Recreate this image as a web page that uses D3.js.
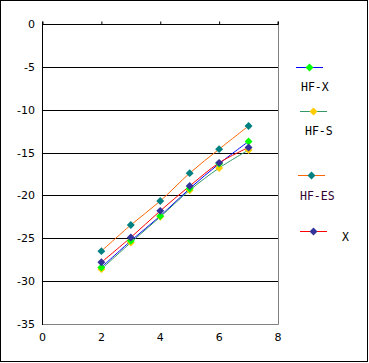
<!DOCTYPE html>
<html lang="en">
<head>
    <meta charset="UTF-8">
    <title>HF chart</title>
    <style>
        body { margin: 0; background: #fff; }
        .tick-label { font-family: "DejaVu Sans", sans-serif; font-size: 11px; fill: #000; }
        .legend-label { font-family: "DejaVu Sans Mono", monospace; font-size: 11.5px; }
    </style>
</head>
<body>
    <svg width="369" height="363"></svg>

    <script src="https://d3js.org/d3.v7.min.js"></script>
    <script>
        // values
        const xValues = [2, 3, 4, 5, 6, 7];
        const hfX = [-28.4, -25.3, -22.4, -19.2, -16.3, -13.7];
        const hfS = [-28.6, -25.5, -22.5, -19.4, -16.8, -14.7];
        const hfES = [-26.5, -23.45, -20.65, -17.4, -14.6, -11.9];
        const xSeries = [-27.8, -24.9, -21.8, -18.9, -16.2, -14.4];

        const yTicks = [0, -5, -10, -15, -20, -25, -30, -35];
        const xTicks = [0, 2, 4, 6, 8];

        const series = [
            { name: "HF-X", values: hfX, line: "#0000ff", marker: "#00ff00", text: "#000", z: 1 },
            { name: "HF-S", values: hfS, line: "#339966", marker: "#ffcc00", text: "#000", z: 0 },
            { name: "HF-ES", values: hfES, line: "#ff6600", marker: "#008080", text: "#330033", z: 2 },
            { name: "X", values: xSeries, line: "#ff0000", marker: "#333399", text: "#000", z: 3 }
        ];

        const svg = d3.select("svg");

        // outer frame
        svg.append("rect")
            .attr("x", 0.5).attr("y", 0.5)
            .attr("width", 367).attr("height", 361)
            .attr("fill", "none").attr("stroke", "#000");

        const x = d3.scaleLinear().domain([0, 8]).range([42.5, 278]);
        const y = d3.scaleLinear().domain([0, -35]).range([24, 324]);

        // gridlines
        svg.append("g")
            .selectAll("line")
            .data(yTicks.filter(d => d < 0 && d > -35))
            .enter().append("line")
            .attr("x1", x(0)).attr("x2", x(8))
            .attr("y1", d => Math.round(y(d)) + 0.5)
            .attr("y2", d => Math.round(y(d)) + 0.5)
            .attr("stroke", "#000");

        // gray bottom and right borders
        svg.append("path")
            .attr("d", `M${x(0)},${y(-35) + 0.5}H${x(8) + 0.5}V${y(0)}`)
            .attr("fill", "none")
            .attr("stroke", "#808080");

        // left axis
        svg.append("line")
            .attr("x1", x(0)).attr("x2", x(0))
            .attr("y1", y(0)).attr("y2", y(-35) + 1)
            .attr("stroke", "#000");

        svg.append("g")
            .selectAll("text")
            .data(yTicks)
            .enter().append("text")
            .attr("class", "tick-label")
            .attr("x", 35)
            .attr("y", d => y(d) + 4)
            .attr("text-anchor", "end")
            .text(d => d === 0 ? "0" : "-" + Math.abs(d));

        // x axis sits on y = 0, ticks point up
        const xAxis = svg.append("g")
            .attr("transform", `translate(0,${Math.round(y(0)) + 0.5})`)
            .call(d3.axisTop(x).tickValues(xTicks).tickSize(3).tickFormat(""));
        xAxis.select(".domain").attr("stroke", "#000").attr("d", `M${x(0)},-3V0H${x(8)}V-3`);
        xAxis.selectAll(".tick line").attr("stroke", "#000");

        svg.append("g")
            .selectAll("text")
            .data(xTicks)
            .enter().append("text")
            .attr("class", "tick-label")
            .attr("x", d => x(d))
            .attr("y", 341)
            .attr("text-anchor", "middle")
            .text(d => d);

        const line = d3.line()
            .x((d, i) => x(xValues[i]))
            .y(d => y(d))
            .curve(d3.curveCatmullRom.alpha(0.5));

        const diamond = d3.symbol().type(d3.symbolDiamond2).size(40);

        series.forEach(s => {
            svg.append("path")
                .attr("d", line(s.values))
                .attr("fill", "none")
                .attr("stroke", s.line)
                .attr("stroke-width", 1);
        });

        // markers: yellow under green, as in the picture
        series.slice().sort((a, b) => a.z - b.z).forEach(s => {
            svg.append("g")
                .selectAll("path")
                .data(s.values)
                .enter().append("path")
                .attr("d", diamond)
                .attr("transform", (d, i) => `translate(${x(xValues[i])},${y(d)})`)
                .attr("fill", s.marker);
        });

        // legend
        const legendPos = [
            { ly: 67, lx: 296, tx: 301, ty: 91 },
            { ly: 111, lx: 300, tx: 305, ty: 135 },
            { ly: 175, lx: 298, tx: 300, ty: 200 },
            { ly: 231, lx: 300, tx: 342, ty: 241 }
        ];

        series.forEach((s, i) => {
            const p = legendPos[i];
            const g = svg.append("g");
            g.append("line")
                .attr("x1", p.lx).attr("x2", p.lx + 27)
                .attr("y1", p.ly + 0.5).attr("y2", p.ly + 0.5)
                .attr("stroke", s.line);
            g.append("path")
                .attr("d", diamond)
                .attr("transform", `translate(${p.lx + 13.5},${p.ly + 0.5})`)
                .attr("fill", s.marker);
            g.append("text")
                .attr("class", "legend-label")
                .attr("x", p.tx).attr("y", p.ty)
                .attr("fill", s.text)
                .text(s.name);
        });
    </script>
</body>
</html>
